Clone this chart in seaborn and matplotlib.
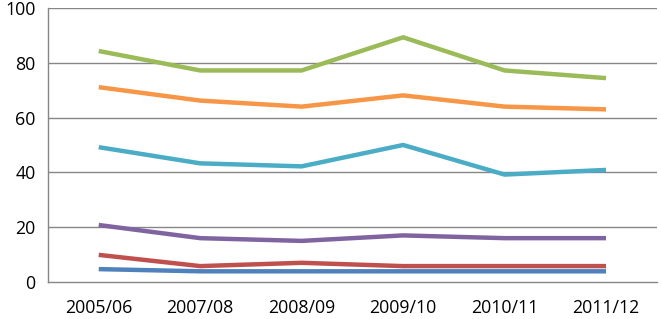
import matplotlib
matplotlib.use("Agg")
import matplotlib.pyplot as plt
import seaborn as sns
import pandas as pd

# data
years = ["2005/06", "2007/08", "2008/09", "2009/10", "2010/11", "2011/12"]
series_1 = [4.7, 3.9, 3.9, 3.9, 3.9, 3.9]
series_2 = [9.9, 5.8, 7.0, 5.8, 5.8, 5.8]
series_3 = [84.3, 77.2, 77.2, 89.3, 77.2, 74.4]
series_4 = [20.8, 16.0, 15.0, 17.0, 16.0, 16.0]
series_5 = [49.2, 43.3, 42.2, 50.0, 39.2, 40.9]
series_6 = [71.1, 66.2, 64.0, 68.1, 64.0, 63.0]
series_names = ["Series1", "Series2", "Series3", "Series4", "Series5", "Series6"]
colors = ["#4F81BD", "#C0504D", "#9BBB59", "#8064A2", "#4BACC6", "#F79646"]

all_series = [series_1, series_2, series_3, series_4, series_5, series_6]
rows = []
for name, vals in zip(series_names, all_series):
    for i, v in enumerate(vals):
        rows.append({"pos": i, "year": years[i], "value": v, "series": name})
df = pd.DataFrame(rows)

sns.set_style("white")
plt.rcParams['font.family'] = ['Open Sans', 'DejaVu Sans']

fig = plt.figure(figsize=(6.61, 3.19), dpi=100)
ax = fig.add_axes([0.0726, 0.116, 0.921, 0.859])

grid_col = "#868686"
for y in [20, 40, 60, 80, 100]:
    ax.axhline(y, color=grid_col, lw=1.0, zorder=0)

sns.lineplot(data=df, x="pos", y="value", hue="series", palette=colors,
             linewidth=3.2, legend=False, ax=ax, solid_capstyle="butt")

ax.set_xlim(-0.5, 5.5)
ax.set_ylim(0, 100)
ax.set_yticks([0, 20, 40, 60, 80, 100])
ax.set_xticks(range(len(years)))
ax.set_xticklabels(years)
ax.set_xticks([i - 0.5 for i in range(len(years) + 1)], minor=True)
ax.tick_params(axis="x", which="major", length=0, pad=12, labelsize=12.8, labelcolor="black")
ax.tick_params(axis="x", which="minor", length=5, color=grid_col, direction="out")
ax.tick_params(axis="y", length=5, color=grid_col, direction="out", labelsize=12.8,
               pad=4, labelcolor="black")
ax.set_xlabel("")
ax.set_ylabel("")

for s in ["top", "right"]:
    ax.spines[s].set_visible(False)
for s in ["left", "bottom"]:
    ax.spines[s].set_color(grid_col)
    ax.spines[s].set_linewidth(1.0)

fig.savefig("out.png", dpi=100)
